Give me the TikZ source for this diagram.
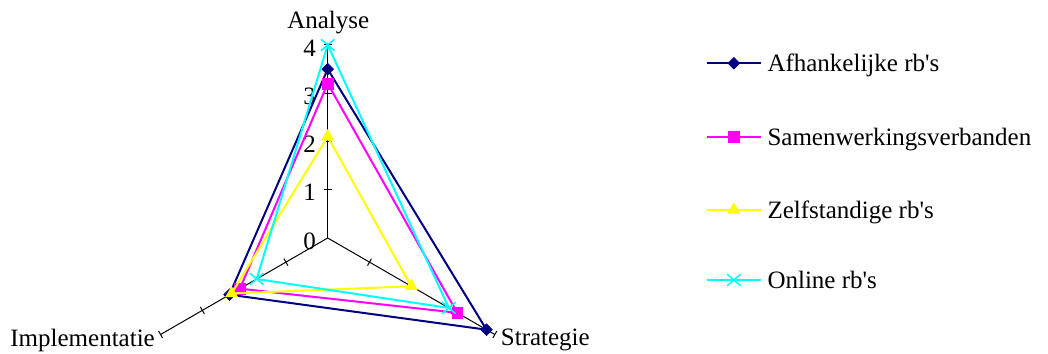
\documentclass[tikz,border=0pt]{standalone}
\usepackage{fontspec}
\setmainfont{Liberation Serif}
\usetikzlibrary{shapes.geometric,shapes.misc,positioning,calc}
\definecolor{afh}{RGB}{0,0,128}
\definecolor{sam}{RGB}{255,0,255}
\definecolor{zel}{RGB}{255,255,0}
\definecolor{onl}{RGB}{0,255,255}
\tikzset{/radar/axis/.style={draw=black, line width=1pt}}
\tikzset{/radar/serie/.style={draw=#1, line width=2pt, line join=miter}}
\tikzset{/radar/diamondpt/.style={diamond, draw=afh, fill=afh, line width=0.5pt, inner sep=0pt, minimum width=12pt, minimum height=12pt}}
\tikzset{/radar/squarept/.style={rectangle, draw=sam, fill=sam, line width=0.5pt, inner sep=0pt, minimum size=10.5pt}}
\tikzset{/radar/trianglept/.style={regular polygon, regular polygon sides=3, draw=zel, fill=zel, line width=0.5pt, inner sep=0pt, minimum size=14pt}}
\tikzset{/radar/crosspt/.style={cross out, draw=onl, line width=1.5pt, inner sep=0pt, minimum width=12pt, minimum height=10pt}}
\tikzset{/radar/label/.style={inner sep=0pt, font=\fontsize{25}{30}\selectfont}}

\begin{document}
\begin{tikzpicture}[x=1pt, y=1pt]
	\useasboundingbox (0,0) rectangle (1048,353);
	\begin{scope}[shift={(327.7,115)}, x=48.25pt, y=48.25pt]
		% axes
		\coordinate (o) at (0,0);
		\coordinate (ana) at (90:4);
		\coordinate (str) at (-30:4);
		\coordinate (imp) at (210:4);
		\draw[/radar/axis] (o) -- (ana);
		\draw[/radar/axis] (o) -- (str);
		\draw[/radar/axis] (o) -- (imp);
		\foreach \ang in {90,-30,210}
			\foreach \k in {1,...,4}
				\draw[/radar/axis, shift={(\ang:\k)}, rotate=\ang] (0,-4pt) -- (0,4pt);
		\foreach \k in {0,...,4}
			\node[/radar/label, anchor=east] (tick\k) at (-0.24,\k-0.06) {\k};
		% series
		\foreach \s/\col/\va/\vs/\vi/\mk in {afh/afh/3.5/3.8/2.35/diamondpt, sam/sam/3.2/3.1/2.1/squarept, zel/zel/2.1/2.0/2.3/trianglept, onl/onl/4.0/2.9/1.7/crosspt} {
			\coordinate (\s-a) at (90:\va);
			\coordinate (\s-s) at (-30:\vs);
			\coordinate (\s-i) at (210:\vi);
			\draw[/radar/serie=\col] (\s-a) -- (\s-s) -- (\s-i) -- cycle;
			\foreach \p in {a,s,i}
				\node[/radar/\mk] (\s-m\p) at (\s-\p) {};
		}
	\end{scope}
	% axis names
	\node[/radar/label, anchor=base] (analyse) at (328.3,324.7) {Analyse};
	\node[/radar/label, anchor=base west] (strategie) at (500.7,8) {Strategie};
	\node[/radar/label, anchor=base east] (implementatie) at (155,6.3) {Implementatie};
	% legend
	\foreach \y/\col/\mk/\txt [count=\i] in {289.7/afh/diamondpt/Afhankelijke rb\textquotesingle s, 216.3/sam/squarept/Samenwerkingsverbanden, 143/zel/trianglept/Zelfstandige rb\textquotesingle s, 73/onl/crosspt/Online rb\textquotesingle s} {
		\coordinate (leg\i-l) at (706.7,\y);
		\coordinate (leg\i-r) at (761,\y);
		\draw[/radar/serie=\col] (leg\i-l) -- (leg\i-r);
		\node[/radar/\mk] (leg\i-m) at ($(leg\i-l)!0.5!(leg\i-r)$) {};
		\node[/radar/label, anchor=base west] (legtxt\i) at (767.3,\y-8.4) {\txt};
	}
\end{tikzpicture}
\end{document}
